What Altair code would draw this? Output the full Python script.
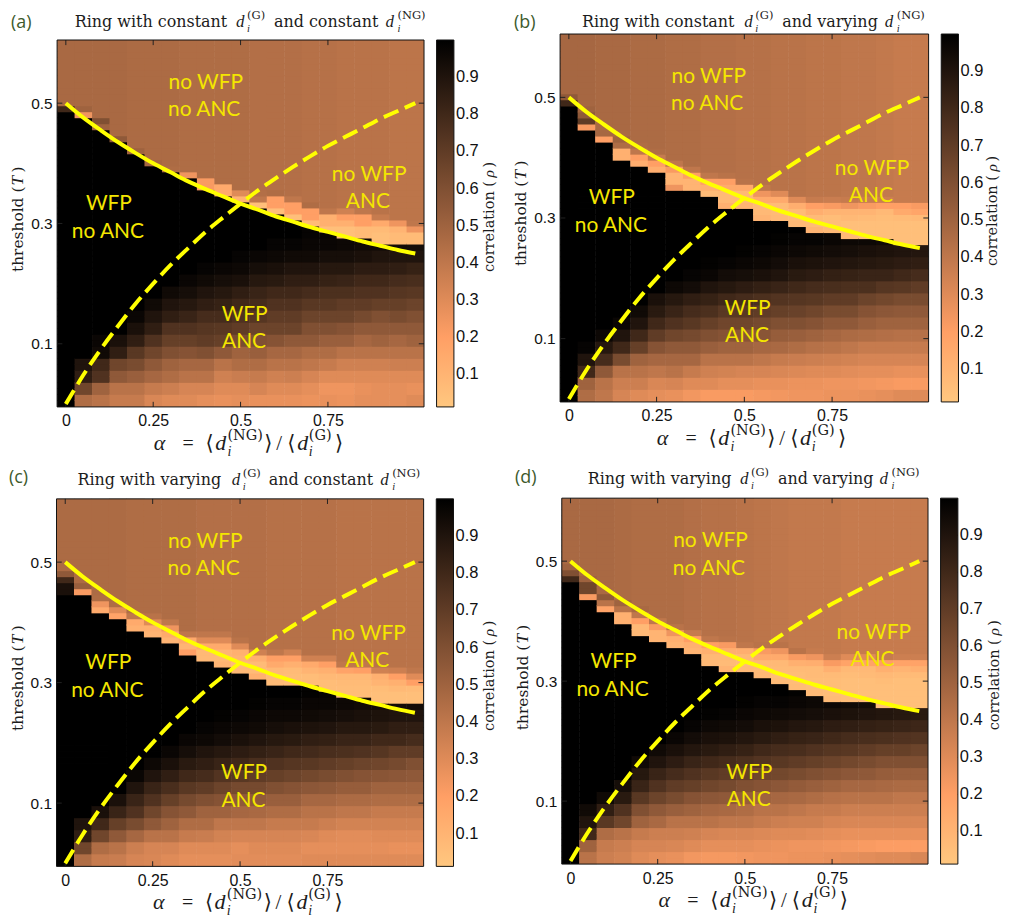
import altair as alt
import pandas as pd

ALPHA = [round(j * 0.05, 2) for j in range(21)]
THRESH = [round(i * 0.01, 2) for i in range(61)]

LINE_X = [0, .05, .1, .15, .2, .25, .3, .35, .4, .45, .5, .55, .6, .65, .7, .75, .8, .85, .9, .95, 1]
SOLID_T = [.5, .476, .455, .435, .417, .4, .385, .37, .357, .345, .333, .323, .312, .303, .294, .286, .278, .27, .263, .256, .25]
DASH_T = [0, .048, .091, .13, .167, .2, .231, .259, .286, .31, .333, .355, .375, .394, .412, .429, .444, .459, .474, .487, .5]

# ---- panel (a)
UPPER_A = [.47,.47,.47,.47,.46,.46,.46,.45,.45,.45,.45,.44,.44,.44,.43,.43,.42,.42,.42,.41,.41]
EDGE_A = [49,48,46,44,42,40,39,38,36,35,34,33,32,31,30,29,28,28,27,27,27]
RIDGE_A = [[.8],[.25,.5],[.5,.6],[.55],[.5],[.48],[.45],[.25,.45],[.22,.22,.45],[.15,.15,.45],[.1,.3],[.05,.4],
 [.05,.2,.2,.45],[.05,.2,.2,.4],[.07,.2,.2,.45],[.05,.12,.12,.4],[.05,.05,.12,.2,.35],[.07,.07,.2,.2,.4],
 [.05,.05,.07,.15,.38],[.07,.07,.1,.25],[.07,.07,.25,.4]]
LOW_A = [
 [1,.45,.42,.38,.38,.32,.30,.30,.28,.27,.28,.27,.27,.27,.26,.27,.26,.28,.28,.28,.30],
 [1,.65,.5,.42,.42,.38,.36,.33,.33,.3,.3,.33,.3,.3,.28,.25,.25,.27,.28,.28,.27],
 [1,.85,.75,.55,.52,.48,.45,.42,.42,.35,.37,.38,.35,.36,.33,.3,.3,.3,.3,.3,.3],
 [1,.9,.8,.65,.62,.55,.5,.48,.48,.42,.45,.45,.42,.42,.4,.38,.35,.35,.35,.36,.36],
 [1,1,.95,.85,.72,.65,.6,.58,.6,.55,.5,.52,.48,.48,.45,.45,.42,.42,.42,.42,.42],
 [1,1,.97,.92,.85,.75,.68,.68,.7,.68,.62,.6,.58,.55,.55,.52,.52,.48,.5,.48,.5],
 [1,1,1,1,.92,.85,.75,.75,.73,.72,.7,.66,.66,.66,.6,.6,.58,.55,.55,.55,.55],
 [1,1,1,1,.97,.9,.85,.82,.78,.78,.75,.73,.7,.7,.66,.66,.66,.63,.6,.62,.6],
 [1,1,1,1,1,.95,.9,.88,.85,.83,.8,.78,.75,.75,.72,.72,.7,.7,.68,.68,.66],
 [1,1,1,1,1,1,.95,.93,.9,.88,.85,.82,.8,.8,.78,.76,.76,.75,.75,.73,.72],
 [1,1,1,1,1,1,1,.97,.95,.93,.92,.88,.87,.85,.85,.83,.82,.8,.8,.78,.77],
 [1,1,1,1,1,1,1,1,.98,.97,.96,.93,.92,.9,.9,.88,.88,.86,.86,.85,.83],
 [1,1,1,1,1,1,1,1,1,1,.98,.97,.96,.95,.95,.93,.93,.92,.9,.9,.9],
 [1,1,1,1,1,1,1,1,1,1,1,1,.98,.98,.97,.97,.96,.95,.95,.94,.93],
 [1,1,1,1,1,1,1,1,1,1,1,1,1,1,.98,.98,.97,.97,.97,.97,.97],
]

# ---- panel (b)
UPPER_B = [.48,.48,.47,.47,.46,.46,.45,.45,.44,.44,.43,.43,.42,.42,.41,.41,.4,.4,.39,.38,.38]
EDGE_B = [49,45,43,40,39,38,35,35,34,32,32,30,30,29,28,28,27,27,27,26,26]
RIDGE_B = [[.8,.55],[.22,.7,.55,.5],[.2,.48],[.12,.12,.45,.5],[.13,.2,.4,.45],[.13,.2,.38,.45],[.25,.1,.1,.22,.4],
 [.1,.1,.2,.4],[.07,.12,.2,.4],[.12,.08,.08,.15,.2,.42],[.1,.08,.08,.15,.42],[.1,.08,.08,.15,.25,.4],
 [.08,.07,.07,.15,.3,.42],[.08,.07,.07,.13,.3,.42],[.1,.07,.07,.13,.2,.38],[.08,.06,.06,.1,.22,.37],
 [.08,.05,.05,.08,.1,.25,.38],[.05,.05,.05,.07,.1,.22,.37],[.05,.05,.05,.06,.08,.2,.36],
 [.05,.05,.05,.05,.07,.15,.2,.38],[.05,.05,.05,.05,.08,.17,.22,.38]]
LOW_B = [
 [1,.45,.4,.33,.3,.28,.27,.24,.22,.22,.22,.23,.24,.25,.25,.26,.26,.27,.28,.3,.3],
 [1,.5,.42,.36,.36,.32,.33,.3,.3,.28,.28,.27,.27,.26,.26,.25,.25,.24,.23,.22,.22],
 [1,.8,.55,.42,.42,.4,.42,.38,.35,.34,.33,.33,.32,.31,.3,.3,.29,.28,.28,.27,.27],
 [1,.9,.78,.62,.5,.48,.48,.48,.42,.42,.42,.4,.38,.37,.36,.35,.34,.33,.33,.33,.33],
 [1,.98,.88,.8,.68,.58,.55,.55,.52,.5,.5,.48,.47,.45,.43,.42,.4,.38,.38,.38,.38],
 [1,1,.96,.9,.8,.7,.65,.63,.6,.58,.57,.57,.53,.52,.5,.48,.46,.45,.44,.43,.43],
 [1,1,1,.97,.9,.8,.75,.72,.68,.65,.65,.63,.6,.6,.58,.55,.55,.52,.5,.5,.5],
 [1,1,1,1,.95,.87,.82,.78,.76,.72,.72,.7,.68,.67,.65,.62,.62,.58,.56,.55,.55],
 [1,1,1,1,1,.92,.88,.85,.83,.8,.78,.76,.74,.73,.72,.7,.7,.66,.64,.62,.62],
 [1,1,1,1,1,1,.96,.94,.9,.88,.86,.84,.82,.8,.78,.77,.76,.76,.73,.72,.7],
 [1,1,1,1,1,1,1,.98,.97,.94,.93,.92,.9,.87,.86,.84,.83,.82,.82,.8,.78],
 [1,1,1,1,1,1,1,1,.99,.98,.97,.96,.94,.92,.91,.9,.89,.88,.87,.86,.85],
 [1,1,1,1,1,1,1,1,1,1,.99,.98,.97,.96,.95,.94,.93,.92,.91,.9,.89],
 [1,1,1,1,1,1,1,1,1,1,1,1,.99,.98,.98,.97,.96,.96,.95,.94,.93],
 [1,1,1,1,1,1,1,1,1,1,1,1,1,1,1,.99,.98,.98,.97,.97,.96],
]

# ---- panel (c)
UPPER_C = [.46,.46,.46,.46,.45,.45,.45,.45,.44,.44,.44,.44,.43,.43,.43,.43,.42,.42,.42,.42,.42]
EDGE_C = [45,45,42,41,39,38,37,35,34,33,32,31,30,30,30,29,28,28,27,27,27]
RIDGE_C = [[.92,.92,.8,.55],[.22,.52],[.15,.25,.45],[.18,.3,.45],[.12,.15,.4],[.1,.12,.3,.42],[.1,.15,.25,.4],
 [.2,.1,.15,.4],[.08,.08,.15,.3,.4],[.1,.08,.1,.15,.3,.4],[.08,.07,.1,.12,.3,.42],[.12,.07,.07,.12,.35],
 [.07,.07,.08,.15,.2,.4],[.06,.06,.07,.12,.2,.35],[.06,.06,.1,.15,.35],[.06,.06,.08,.12,.2,.35],
 [.06,.06,.07,.08,.18,.4],[.06,.06,.07,.08,.2,.4],[.05,.05,.06,.1,.12,.35],[.05,.05,.08,.12,.2,.36],[.05,.05,.07,.2,.3,.4]]
LOW_C = [
 [1,.45,.38,.37,.33,.32,.3,.28,.28,.28,.29,.29,.29,.29,.3,.3,.3,.3,.3,.3,.3],
 [1,.65,.45,.42,.36,.33,.33,.3,.3,.3,.28,.3,.3,.3,.28,.28,.28,.28,.28,.27,.27],
 [1,.85,.65,.55,.48,.42,.42,.38,.37,.34,.33,.33,.33,.33,.32,.3,.29,.29,.3,.3,.3],
 [1,.9,.8,.68,.62,.55,.5,.45,.45,.4,.4,.4,.38,.38,.38,.36,.34,.34,.34,.34,.34],
 [1,1,.92,.82,.75,.65,.58,.55,.5,.5,.48,.47,.45,.45,.42,.42,.4,.4,.38,.38,.38],
 [1,1,1,.92,.82,.75,.68,.63,.6,.58,.55,.55,.52,.52,.48,.48,.46,.46,.45,.45,.45],
 [1,1,1,1,.9,.82,.77,.72,.7,.66,.63,.63,.6,.58,.56,.55,.53,.53,.5,.5,.5],
 [1,1,1,1,.97,.9,.85,.8,.78,.74,.72,.7,.68,.66,.64,.62,.6,.58,.57,.56,.55],
 [1,1,1,1,1,.96,.92,.87,.85,.82,.8,.77,.75,.73,.72,.7,.68,.66,.65,.63,.6],
 [1,1,1,1,1,1,.97,.93,.9,.88,.86,.84,.82,.8,.79,.77,.76,.75,.73,.7,.7],
 [1,1,1,1,1,1,1,.97,.96,.94,.92,.9,.88,.87,.85,.84,.82,.82,.8,.8,.78],
 [1,1,1,1,1,1,1,1,.98,.97,.96,.95,.93,.92,.91,.9,.88,.88,.87,.85,.85],
 [1,1,1,1,1,1,1,1,1,.99,.98,.97,.96,.96,.95,.94,.93,.92,.91,.9,.9],
 [1,1,1,1,1,1,1,1,1,1,1,.99,.98,.98,.97,.97,.96,.95,.95,.94,.94],
 [1,1,1,1,1,1,1,1,1,1,1,1,1,1,.99,.98,.98,.97,.97,.97,.96],
]

# ---- panel (d)
UPPER_D = [.47,.47,.47,.46,.45,.45,.45,.44,.43,.43,.42,.41,.4,.39,.39,.39,.38,.38,.38,.38,.38]
EDGE_D = [47,44,42,40,38,37,36,35,33,32,32,31,30,29,28,27,27,27,26,26,26]
RIDGE_D = [[.8,.6,.5],[.22,.65,.65,.5],[.18,.42,.55],[.12,.12,.42,.5],[.08,.08,.2,.4,.47],[.1,.1,.22,.4],[.1,.12,.25,.42],
 [.1,.12,.2,.38],[.08,.08,.12,.2,.4],[.1,.07,.08,.13,.22,.42],[.08,.07,.08,.13,.4],[.08,.07,.08,.15,.22,.42],
 [.07,.06,.07,.08,.15,.25,.42],[.07,.06,.06,.07,.12,.22,.42],[.07,.06,.06,.07,.07,.13,.25,.38],[.07,.06,.06,.06,.07,.12,.22,.36],
 [.06,.06,.05,.05,.06,.08,.18,.3,.38],[.06,.05,.05,.05,.07,.08,.18,.3,.38],[.05,.05,.05,.05,.06,.08,.12,.2,.38],
 [.05,.05,.05,.05,.05,.07,.1,.18,.36],[.05,.05,.05,.05,.05,.07,.12,.18,.36]]
LOW_D = [
 [1,.42,.36,.34,.3,.28,.27,.24,.23,.23,.24,.25,.25,.26,.26,.27,.28,.29,.3,.3,.32],
 [1,.5,.38,.36,.33,.33,.32,.3,.28,.28,.28,.27,.26,.25,.25,.24,.23,.22,.21,.21,.21],
 [1,.8,.45,.42,.38,.36,.36,.35,.33,.32,.32,.31,.3,.3,.29,.28,.27,.27,.27,.27,.27],
 [1,.9,.72,.65,.5,.47,.42,.42,.42,.4,.4,.38,.36,.35,.35,.33,.32,.32,.32,.32,.32],
 [1,.95,.85,.75,.6,.55,.52,.5,.48,.47,.45,.42,.42,.4,.38,.38,.36,.36,.36,.36,.36],
 [1,1,.95,.87,.72,.66,.62,.58,.56,.55,.53,.5,.48,.47,.45,.43,.42,.42,.42,.4,.4],
 [1,1,1,.93,.82,.75,.7,.68,.65,.63,.6,.58,.56,.54,.52,.5,.48,.48,.47,.46,.46],
 [1,1,1,1,.88,.82,.78,.75,.72,.7,.68,.65,.64,.62,.6,.58,.56,.55,.53,.52,.52],
 [1,1,1,1,.95,.9,.86,.82,.8,.78,.76,.74,.72,.7,.68,.66,.64,.62,.6,.6,.6],
 [1,1,1,1,1,.95,.92,.89,.87,.85,.83,.8,.78,.77,.75,.73,.72,.7,.68,.68,.66],
 [1,1,1,1,1,1,.97,.94,.92,.91,.89,.87,.85,.83,.82,.8,.78,.77,.76,.75,.74],
 [1,1,1,1,1,1,1,.98,.96,.95,.94,.92,.91,.89,.88,.86,.85,.84,.83,.82,.81],
 [1,1,1,1,1,1,1,1,.99,.98,.97,.96,.95,.94,.93,.92,.91,.9,.89,.88,.87],
 [1,1,1,1,1,1,1,1,1,1,.99,.98,.98,.97,.96,.96,.95,.94,.93,.93,.92],
 [1,1,1,1,1,1,1,1,1,1,1,1,1,.99,.99,.98,.98,.97,.97,.96,.96],
]

TICK_A = [0, .25, .5, .75]
TICK_T = [.1, .3, .5]
BAR_TICKS = [.1, .2, .3, .4, .5, .6, .7, .8, .9]

SERIF = "DejaVu Serif"
MATH = "Liberation Serif"
SANS = "Liberation Sans"
YEL = "#f4e600"
INK = "#1c1c1c"
CELL_W, CELL_H = 497, 452
X_DOM, Y_DOM = [-0.025, 1.025], [-0.005, 0.605]


def table(low, edge, ridge, upper):
    rows = []
    for j, a in enumerate(ALPHA):
        for i, t in enumerate(THRESH):
            if i < edge[j]:
                k = i // 2
                v = low[k][j] if k < len(low) else 1.0
            else:
                r = i - edge[j]
                v = ridge[j][r] if r < len(ridge[j]) else upper[j]
            rows.append({"x0": a - .025, "x1": a + .025 + (.0015 if j < 20 else 0),
                         "y0": t - .005, "y1": t + .005 + (.0014 if i < 60 else 0), "rho": v})
    return pd.DataFrame(rows)


def txt(s, x, y, size, font=SERIF, style="normal", color=INK, angle=0, align="left", weight="normal"):
    return alt.Chart().mark_text(text=s, font=font, fontSize=size, fontStyle=style, color=color, angle=angle,
                                 align=align, baseline="alphabetic", fontWeight=weight
                                 ).encode(x=alt.value(x), y=alt.value(y))


def panel(letter, low, edge, ridge, upper, box, bar, title, title_xy, title_dx, letter_xy):
    L, T, R, B = box
    sx = alt.Scale(domain=X_DOM, range=[L, R], nice=False, zero=False)
    sy = alt.Scale(domain=Y_DOM, range=[B, T], nice=False, zero=False)
    X = lambda f, **k: alt.X(f, scale=sx, **k)
    Y = lambda f, **k: alt.Y(f, scale=sy, **k)
    heat = alt.Chart(table(low, edge, ridge, upper)).mark_rect(strokeWidth=0).encode(
        x=X("x0:Q", title=None, axis=alt.Axis(values=TICK_A, labelExpr="datum.value + ''", domain=False, grid=False, ticks=False,
                                              labelFont=SANS, labelFontSize=16, labelColor="#111", labelPadding=6,
                                              labelFlush=False, offset=-(CELL_H - B))),
        x2="x1:Q",
        y=Y("y0:Q", title=None, axis=alt.Axis(values=TICK_T, labelExpr="datum.value + ''", domain=False, grid=False, ticks=False,
                                              labelFont=SANS, labelFontSize=15.5, labelColor="#111", labelPadding=5,
                                              labelFlush=False, offset=-L)),
        y2="y1:Q",
        color=alt.Color("rho:Q",
                        scale=alt.Scale(domain=[.012, .2, 1], range=["#ffc77f", "#ff9f65", "#000000"],
                                        interpolate="rgb", nice=False, zero=False, clamp=True),
                        legend=alt.Legend(orient="none", legendX=bar[0], legendY=T, title=None, type="gradient",
                                          direction="vertical", gradientLength=B - T, gradientThickness=bar[1] - bar[0],
                                          gradientStrokeColor="#111", gradientStrokeWidth=1, values=BAR_TICKS,
                                          format=".1f", labelFont=SANS, labelFontSize=16.5, labelColor="#111",
                                          labelOffset=2, labelOverlap=False, padding=0)),
    )
    frame = alt.Chart(pd.DataFrame({"a": [X_DOM[0]], "b": [X_DOM[1]], "c": [Y_DOM[0]], "d": [Y_DOM[1]]})
                      ).mark_rect(filled=False, stroke="#111", strokeWidth=1).encode(
        x=X("a:Q"), x2="b:Q", y=Y("c:Q"), y2="d:Q")
    lines = pd.DataFrame({"a": LINE_X, "s": SOLID_T, "d": DASH_T})
    solid = alt.Chart(lines).mark_line(color="#ffff00", strokeWidth=4, interpolate="monotone").encode(
        x=X("a:Q"), y=Y("s:Q"))
    dash = alt.Chart(lines).mark_line(color="#ffff00", strokeWidth=4, strokeDash=[16, 7], interpolate="monotone").encode(
        x=X("a:Q"), y=Y("d:Q"))
    tk = .0085
    vt = pd.DataFrame({"a": TICK_A * 2,
                       "y0": [Y_DOM[0]] * 4 + [Y_DOM[1]] * 4,
                       "y1": [Y_DOM[0] + tk] * 4 + [Y_DOM[1] - tk] * 4})
    vticks = alt.Chart(vt).mark_rule(color="#222", strokeWidth=1).encode(x=X("a:Q"), y=Y("y0:Q"), y2="y1:Q")
    ht = pd.DataFrame({"t": TICK_T * 2,
                       "x0": [X_DOM[0]] * 3 + [X_DOM[1]] * 3,
                       "x1": [X_DOM[0] + .015] * 3 + [X_DOM[1] - .015] * 3})
    hticks = alt.Chart(ht).mark_rule(color="#222", strokeWidth=1).encode(y=Y("t:Q"), x=X("x0:Q"), x2="x1:Q")
    layers = [heat, vticks, hticks, frame, solid, dash]

    # colour-bar inner tick marks
    for v in BAR_TICKS:
        py = B - (v - .012) / (1 - .012) * (B - T)
        layers.append(alt.Chart().mark_rule(color="#222", strokeWidth=1).encode(
            x=alt.value(bar[1] - 4), x2=alt.value(bar[1]), y=alt.value(py)))

    # regions
    for s, dx, dy in [("no WFP", 149.3, 49), ("no ANC", 147.7, 76.7), ("no WFP", 313.3, 141.7), ("ANC", 312, 169),
                      ("WFP", 52, 171), ("no ANC", 51, 199), ("WFP", 188.3, 281.7), ("ANC", 187.7, 309.3)]:
        layers.append(txt(s, L + dx, T + dy, 21, font="Lato", color=YEL, align="center"))

    # panel letter
    layers.append(txt(letter, letter_xy[0], letter_xy[1], 18, font="Open Sans", color="#3d5a2c"))

    # title
    tx, ty = title_xy
    layers += [txt(title[0], tx, ty, 16),
               txt("d", tx + title_dx[0], ty, 17, font=MATH, style="italic"),
               txt("(G)", tx + title_dx[1], ty - 7.5, 11.5),
               txt("i", tx + title_dx[1], ty + 5, 10.5, font=MATH, style="italic"),
               txt(title[1], tx + title_dx[2], ty, 16),
               txt("d", tx + title_dx[3], ty, 17, font=MATH, style="italic"),
               txt("(NG)", tx + title_dx[4], ty - 7.5, 11.5),
               txt("i", tx + title_dx[4], ty + 5, 10.5, font=MATH, style="italic")]

    # x label
    by = B + 43
    layers += [txt("α", L + 97, by, 22, font=MATH, style="italic"),
               txt("=", L + 126, by, 20, font=MATH),
               txt("⟨", L + 149, by, 21, font="DejaVu Sans"),
               txt("d", L + 158.7, by, 22, font=MATH, style="italic"),
               txt("(NG)", L + 171, by - 10, 14.5),
               txt("i", L + 171, by + 6, 14, font=MATH, style="italic"),
               txt("⟩", L + 208, by, 21, font="DejaVu Sans"),
               txt("/", L + 220, by, 21, font=MATH),
               txt("⟨", L + 231, by, 21, font="DejaVu Sans"),
               txt("d", L + 241, by, 22, font=MATH, style="italic"),
               txt("(G)", L + 252.7, by - 10, 14.5),
               txt("i", L + 252.7, by + 6, 14, font=MATH, style="italic"),
               txt("⟩", L + 279, by, 21, font="DejaVu Sans")]

    # y label
    yx = L - 34
    ys = T + 233
    layers += [txt("threshold (", yx, ys, 15.5, angle=270),
               txt("T", yx, ys - 87, 17, font=MATH, style="italic", angle=270),
               txt(")", yx, ys - 100, 15.5, angle=270)]

    # bar label
    cx = L + 439
    layers += [txt("correlation (", cx, ys, 14.5, angle=270),
               txt("ρ", cx, ys - 95, 15.5, font=MATH, style="italic", angle=270),
               txt(")", cx, ys - 105, 14.5, angle=270)]

    return alt.layer(*layers).properties(width=CELL_W, height=CELL_H).resolve_legend(color="independent")


def rel(box, ox, oy):
    return (box[0] - ox, box[1] - oy, box[2] - ox, box[3] - oy)


a = panel("(a)", LOW_A, EDGE_A, RIDGE_A, UPPER_A, rel((57.3, 38.3, 425.7, 406.7), 8, 8), (430.3, 447.7),
          ("Ring with constant", "and constant"), (67, 17), (162, 173, 200, 312, 324), (3, 18))
b = panel("(b)", LOW_B, EDGE_B, RIDGE_B, UPPER_B, rel((562.3, 32.3, 932.3, 401.7), 505, 8), (440, 457.3),
          ("Ring with constant", "and varying"), (79.3, 17), (163, 174, 201, 304, 316), (11, 18))
c = panel("(c)", LOW_C, EDGE_C, RIDGE_C, UPPER_C, rel((56.7, 499, 425.3, 868), 8, 460), (430, 447.3),
          ("Ring with varying", "and constant"), (69.7, 25), (155, 166, 192, 304, 316), (1, 23))
d = panel("(d)", LOW_D, EDGE_D, RIDGE_D, UPPER_D, rel((564, 498.3, 931.7, 865.7), 505, 460), (439.3, 456.7),
          ("Ring with varying", "and varying"), (85, 24), (153, 164, 191, 293, 305), (12, 23))

chart = alt.concat(a, b, c, d, columns=2, spacing=0, bounds="flush").properties(
    padding=0, background="white"
).configure_view(stroke=None)

chart.save("out.html", embed_options={"renderer": "svg", "actions": False})
